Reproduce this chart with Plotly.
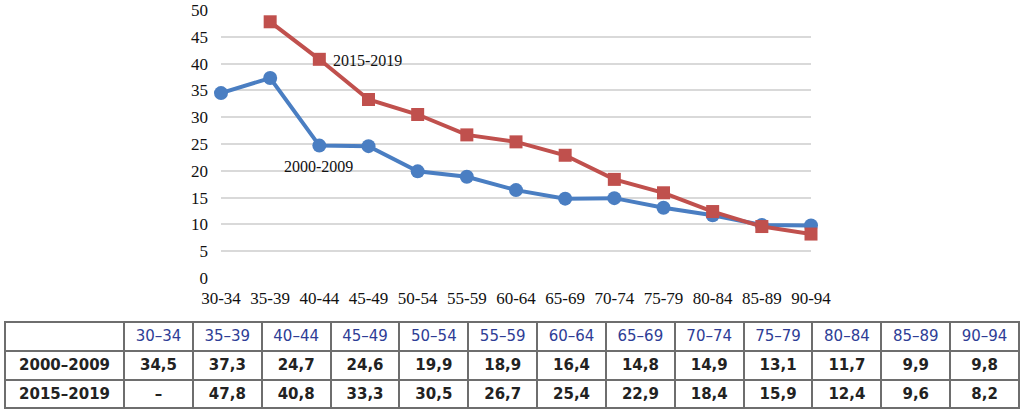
import plotly.graph_objects as go

categories = ["30-34", "35-39", "40-44", "45-49", "50-54", "55-59", "60-64",
              "65-69", "70-74", "75-79", "80-84", "85-89", "90-94"]
series_2000_2009 = [34.5, 37.3, 24.7, 24.6, 19.9, 18.9, 16.4, 14.8, 14.9, 13.1, 11.7, 9.9, 9.8]
series_2015_2019 = [None, 47.8, 40.8, 33.3, 30.5, 26.7, 25.4, 22.9, 18.4, 15.9, 12.4, 9.6, 8.2]
series_names = ["2000–2009", "2015–2019"]
label_names = ["2000-2009", "2015-2019"]
y_ticks = [0, 5, 10, 15, 20, 25, 30, 35, 40, 45, 50]

W, H = 1024, 415
BLUE = "#4a7ec2"
RED = "#c0504d"

def fmt(v):
    if v is None:
        return "–"
    return ("%.1f" % v).replace(".", ",")

fig = go.Figure()

fig.add_trace(go.Scatter(
    x=categories, y=series_2000_2009, mode="lines+markers", name=label_names[0],
    line=dict(color=BLUE, width=4), marker=dict(symbol="circle", size=14, color=BLUE),
    cliponaxis=False, showlegend=False, xaxis="x", yaxis="y"))
fig.add_trace(go.Scatter(
    x=categories, y=series_2015_2019, mode="lines+markers", name=label_names[1],
    line=dict(color=RED, width=4), marker=dict(symbol="square", size=13, color=RED),
    cliponaxis=False, showlegend=False, connectgaps=False, xaxis="x", yaxis="y"))

header_vals = [""] + [c.replace("-", "–") for c in categories]
cell_cols = [list(series_names)]
for a, b in zip(series_2000_2009, series_2015_2019):
    cell_cols.append([fmt(a), fmt(b)])

x0, x1 = 5, 1019
fig.add_trace(go.Table(
    domain=dict(x=[x0 / W, x1 / W], y=[1 - 411 / H, 1 - 322 / H]),
    columnwidth=[119] + [68.8] * len(categories),
    header=dict(values=header_vals, fill_color="white",
                line=dict(color="#6e6e6e", width=2),
                font=dict(family="DejaVu Sans", size=15, color="#2e3d96"),
                align="center", height=29),
    cells=dict(values=cell_cols, fill_color="white",
               line=dict(color="#6e6e6e", width=2),
               font=dict(family="DejaVu Sans", size=15, color="#222222", weight="bold"),
               align="center", height=28.5),
))

px_l, px_r, px_t, px_b = 221, 811, 10, 278
fig.update_layout(
    width=W, height=H,
    margin=dict(l=0, r=0, t=0, b=0, autoexpand=False),
    paper_bgcolor="white", plot_bgcolor="white",
    xaxis=dict(domain=[px_l / W, px_r / W], type="category", automargin=False,
               range=[0, len(categories) - 1], showgrid=False, zeroline=False,
               showline=False, ticks="", ticklabelstandoff=8,
               tickfont=dict(family="Liberation Serif", size=17, color="#111111")),
    yaxis=dict(domain=[1 - px_b / H, 1 - px_t / H], range=[0, 50], automargin=False,
               tickvals=y_ticks, showgrid=True, gridcolor="#d9d9d9", gridwidth=1.5,
               zeroline=False, showline=False, ticks="", ticklabelstandoff=12,
               tickfont=dict(family="Liberation Serif", size=17, color="#111111")),
    annotations=[
        dict(x=2.98, y=40.6, xref="x", yref="y", text=label_names[1], showarrow=False,
             font=dict(family="Liberation Serif", size=16, color="#111111")),
        dict(x=1.98, y=20.8, xref="x", yref="y", text=label_names[0], showarrow=False,
             font=dict(family="Liberation Serif", size=16, color="#111111")),
    ],
)

fig.write_html("out.html", config={"displayModeBar": False},
               post_script="document.body.style.margin='0';document.body.style.overflow='hidden';")
